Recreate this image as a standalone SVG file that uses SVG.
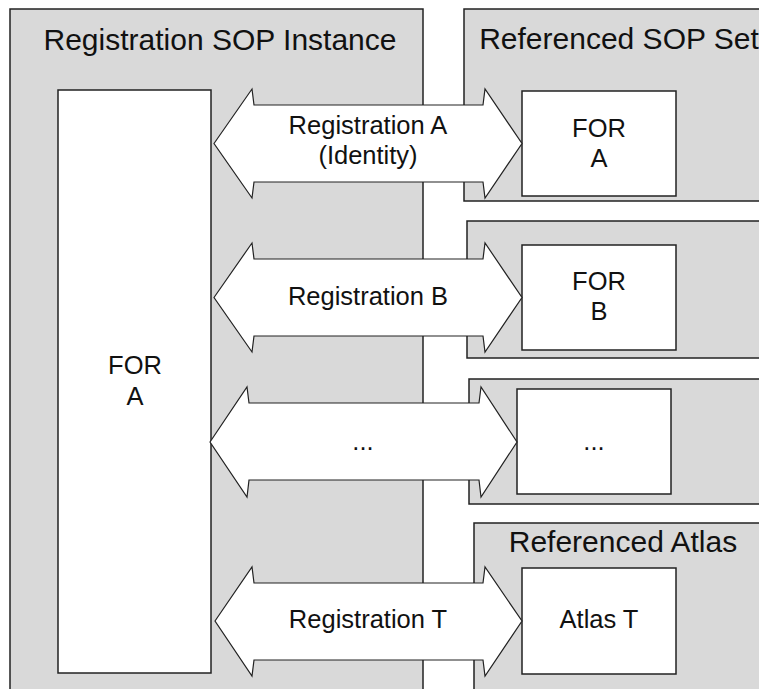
<svg xmlns="http://www.w3.org/2000/svg" width="759" height="689" viewBox="0 0 759 689">
<style>
.grp{fill:#d9d9d9;stroke:#222;stroke-width:1.5}
.box{fill:#fff;stroke:#222;stroke-width:1.5}
.arr{fill:#fff;stroke:#222;stroke-width:1.2;stroke-linejoin:miter}
.t{font-family:"Liberation Sans",Arial,sans-serif;fill:#111;text-anchor:middle}
.big{font-size:30px}
.lbl{font-size:25.5px}
</style>
<rect x="0" y="0" width="759" height="689" fill="#fff"/>
<g id="registration-sop-instance">
<rect class="grp" x="10" y="9" width="413" height="700"/>
<text class="t big" x="220" y="50">Registration SOP Instance</text>
</g>
<g id="referenced-sop-set-a">
<rect class="grp" x="464" y="9" width="310" height="192"/>
<text class="t big" x="619" y="49">Referenced SOP Set</text>
</g>
<g id="referenced-sop-set-b">
<rect class="grp" x="467" y="221" width="310" height="137"/>
</g>
<g id="referenced-sop-set-n">
<rect class="grp" x="469" y="379" width="310" height="125"/>
</g>
<g id="referenced-atlas">
<rect class="grp" x="474" y="523" width="310" height="200"/>
<text class="t big" x="623" y="552">Referenced Atlas</text>
</g>
<g id="for-a-left">
<rect class="box" x="58" y="90" width="153" height="583"/>
<text class="t lbl" x="135" y="374">FOR</text>
<text class="t lbl" x="135" y="405">A</text>
</g>
<g id="for-a">
<rect class="box" x="522" y="91" width="154" height="105"/>
<text class="t lbl" x="599" y="137">FOR</text>
<text class="t lbl" x="599" y="167">A</text>
</g>
<g id="for-b">
<rect class="box" x="522" y="245" width="154" height="105"/>
<text class="t lbl" x="599" y="290">FOR</text>
<text class="t lbl" x="599" y="320">B</text>
</g>
<g id="for-n">
<rect class="box" x="517" y="389" width="154" height="105"/>
<text class="t lbl" x="594" y="450">...</text>
</g>
<g id="atlas-t">
<rect class="box" x="522" y="568" width="154" height="106"/>
<text class="t lbl" x="599" y="628">Atlas T</text>
</g>
<g id="connectors">
<g id="reg-a">
<polygon class="arr" points="214,143.5 252,89 254,105 483,105 485,89 522,143.5 485,198 483,182 254,182 252,198"/>
<text class="t lbl" x="368" y="134">Registration A</text>
<text class="t lbl" x="368" y="164">(Identity)</text>
</g>
<g id="reg-b">
<polygon class="arr" points="214,297.5 252,243 254,259 483,259 485,243 522,297.5 485,352 483,336 254,336 252,352"/>
<text class="t lbl" x="368" y="305">Registration B</text>
</g>
<g id="reg-n">
<polygon class="arr" points="210,442 247,387 249,403 479,403 481,387 517,442 481,497 479,480 249,480 247,497"/>
<text class="t lbl" x="363" y="450">...</text>
</g>
<g id="reg-t">
<polygon class="arr" points="215,621 252,567 254,583 483,583 485,567 522,621 485,676 483,660 254,660 252,676"/>
<text class="t lbl" x="368" y="628">Registration T</text>
</g>
</g>
</svg>
